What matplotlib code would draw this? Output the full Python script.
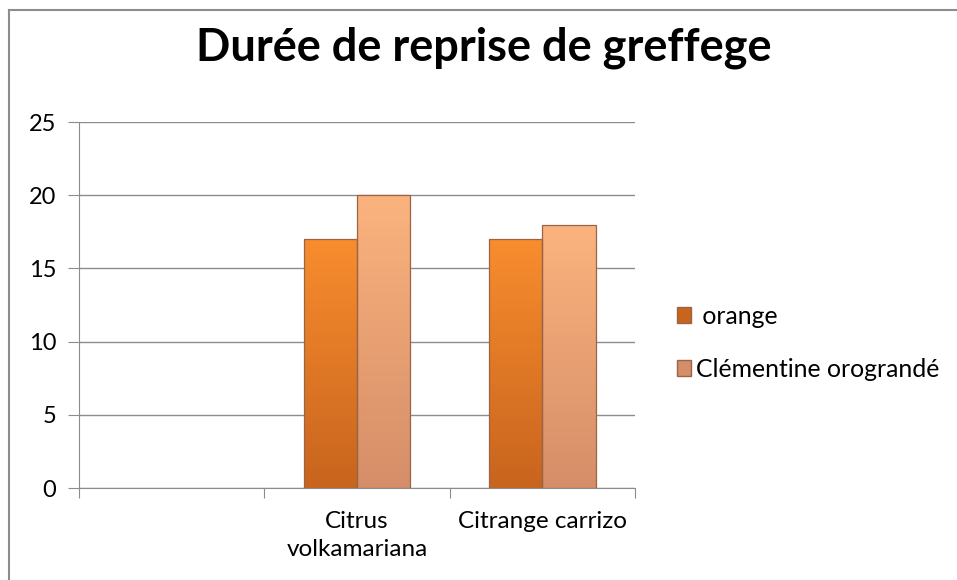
import numpy as np
import matplotlib
matplotlib.use("Agg")
import matplotlib.pyplot as plt
from matplotlib.colors import LinearSegmentedColormap
from matplotlib.lines import Line2D

plt.rcParams['font.family'] = ['Lato', 'DejaVu Sans']

categories = ['', 'Citrus\nvolkamariana', 'Citrange carrizo']
orange = [0, 17, 17]
clementine = [0, 20, 18]
series_names = [' orange', 'Clémentine orograndé']
y_ticks = [0, 5, 10, 15, 20, 25]

# top / bottom colours of each series gradient
grad_orange = ('#F88D2E', '#C8641E')
grad_clem = ('#FBB37E', '#D58E68')

fig = plt.figure(figsize=(9.57, 5.8), dpi=100)
ax = fig.add_axes([0.0826, 0.1586, 0.581, 0.631])

x = np.arange(len(categories))
w = 0.288


def gradient_bars(bars, cols):
    cmap = LinearSegmentedColormap.from_list('g', [cols[1], cols[0]])
    for b in bars:
        if b.get_height() <= 0:
            continue
        b.set_edgecolor('#9A6446')
        b.set_linewidth(0.9)
        x0, y0 = b.get_x(), b.get_y()
        grad = np.linspace(0, 1, 100).reshape(-1, 1)
        im = ax.imshow(grad, cmap=cmap, origin='lower', aspect='auto',
                       extent=[x0, x0 + b.get_width(), y0, y0 + b.get_height()],
                       zorder=b.get_zorder() - 0.1)
        im.set_clip_path(b)
        b.set_facecolor('none')


b1 = ax.bar(x - w / 2, orange, w, zorder=3)
b2 = ax.bar(x + w / 2, clementine, w, zorder=3)
gradient_bars(b1, grad_orange)
gradient_bars(b2, grad_clem)

ax.set_xlim(-0.5, len(categories) - 0.5)
ax.set_ylim(0, 25)
ax.set_yticks(y_ticks)
ax.set_yticklabels([str(t) for t in y_ticks], fontsize=17)
ax.set_xticks(np.arange(len(categories) + 1) - 0.5)
ax.set_xticklabels([])
ax.set_xticks(x, minor=True)
ax.set_xticklabels(categories, minor=True, fontsize=17.5, linespacing=1.4)
ax.tick_params(axis='x', which='minor', length=0, pad=16.5)
ax.tick_params(axis='x', which='major', length=7, color='#8C8C8C')
ax.tick_params(axis='y', length=8, color='#8C8C8C', pad=8.5)
ax.grid(axis='y', color='#8C8C8C', linewidth=1)
ax.set_axisbelow(True)
for s in ['top', 'right']:
    ax.spines[s].set_visible(False)
for s in ['left', 'bottom']:
    ax.spines[s].set_color('#8C8C8C')

fig.suptitle('Durée de reprise de greffege', x=0.506, y=0.955,
             fontsize=32.5, fontweight='bold')

handles = [plt.Rectangle((0, 0), 1, 1, facecolor=grad_orange[1], edgecolor='#9A6446'),
           plt.Rectangle((0, 0), 1, 1, facecolor=grad_clem[1], edgecolor='#9A6446')]
fig.legend(handles, series_names, loc='center left', bbox_to_anchor=(0.707, 0.409),
           frameon=False, fontsize=17.8, handlelength=0.6, handleheight=0.6,
           handletextpad=0.2, labelspacing=1.2, borderpad=0, borderaxespad=0)

# chart frame (top and left edges visible)
fig.add_artist(Line2D([0.0099, 1.0], [0.983, 0.983], transform=fig.transFigure,
                      color='#8C8C8C', linewidth=1.5))
fig.add_artist(Line2D([0.0099, 0.0099], [0.0, 0.983], transform=fig.transFigure,
                      color='#8C8C8C', linewidth=1.5))

fig.savefig('out.png', dpi=100)
